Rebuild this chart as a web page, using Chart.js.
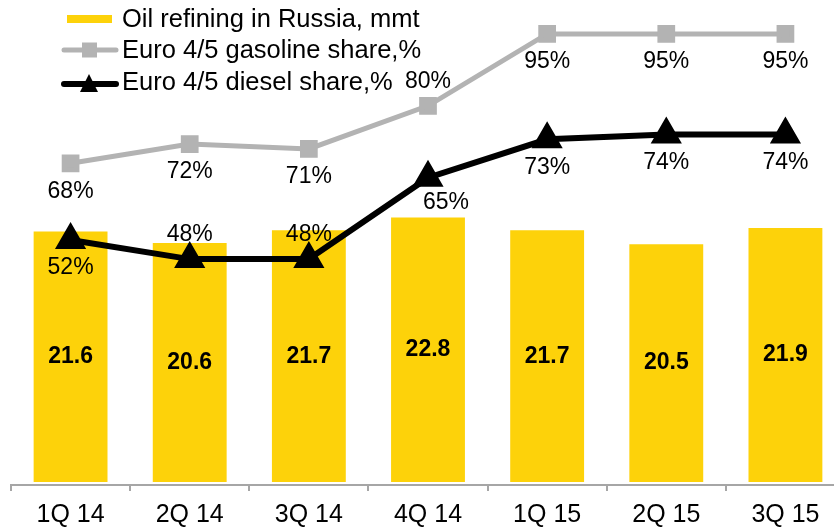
<!DOCTYPE html>
<html>
<head>
<meta charset="utf-8">
<script src="https://cdn.jsdelivr.net/npm/chart.js@4/dist/chart.umd.min.js"></script>
<style>
  html, body { margin: 0; padding: 0; background: #fff; overflow: hidden; }
  #wrap { width: 834px; height: 527px; overflow: hidden; position: relative; }
  #c { position: absolute; left: 0; top: 0; width: 850px; height: 527px; }
</style>
</head>
<body>
<div id="wrap"><canvas id="c" width="850" height="527"></canvas></div>
<script>
const categories = ['1Q 14', '2Q 14', '3Q 14', '4Q 14', '1Q 15', '2Q 15', '3Q 15'];
const refining = [21.6, 20.6, 21.7, 22.8, 21.7, 20.5, 21.9];
const gasolineShare = [68, 72, 71, 80, 95, 95, 95];
const dieselShare = [52, 48, 48, 65, 73, 74, 74];
const gasolineLabelSide = ['below', 'below', 'below', 'above', 'below', 'below', 'below'];
const dieselLabelSide = ['below', 'above', 'above', 'belowRight', 'below', 'below', 'below'];

const FONT = '"Liberation Sans", Arial, sans-serif';
const YELLOW = '#FDD20A';
const GRAY = '#B3B3B3';

const labelPlugin = {
  id: 'labels',
  afterDatasetsDraw(chart) {
    const ctx = chart.ctx;
    ctx.save();
    ctx.textAlign = 'center';
    ctx.textBaseline = 'middle';
    const barMeta = chart.getDatasetMeta(0);
    ctx.font = 'bold 23px ' + FONT;
    ctx.fillStyle = '#000';
    barMeta.data.forEach((el, i) => {
      const y = (el.y + el.base) / 2;
      ctx.fillText(refining[i].toFixed(1), el.x, y);
    });
    ctx.font = '23px ' + FONT;
    const lines = [[1, gasolineShare, gasolineLabelSide], [2, dieselShare, dieselLabelSide]];
    lines.forEach(([idx, vals, sides]) => {
      const meta = chart.getDatasetMeta(idx);
      meta.data.forEach((el, i) => {
        let dx = 0, dy = 28;
        if (sides[i] === 'above') dy = -24;
        if (sides[i] === 'belowRight') { dx = 18; dy = 25; }
        ctx.fillText(vals[i] + '%', el.x + dx, el.y + dy);
      });
    });
    ctx.restore();
  },
  afterDraw(chart) {
    const ctx = chart.ctx;
    ctx.save();
    ctx.font = '25.5px ' + FONT;
    ctx.textBaseline = 'middle';
    ctx.textAlign = 'left';
    const tx = 122;
    let y = 19;
    ctx.fillStyle = YELLOW;
    ctx.fillRect(67, y - 4, 45, 8);
    ctx.fillStyle = '#000';
    ctx.fillText(chart.data.datasets[0].label, tx, y + 1);
    y = 50;
    ctx.strokeStyle = GRAY;
    ctx.lineWidth = 5;
    ctx.lineCap = 'round';
    ctx.beginPath(); ctx.moveTo(64, y); ctx.lineTo(116, y); ctx.stroke();
    ctx.fillStyle = GRAY;
    ctx.fillRect(82, y - 7.5, 15, 15);
    ctx.fillStyle = '#000';
    ctx.fillText(chart.data.datasets[1].label, tx, y + 1);
    y = 82;
    ctx.strokeStyle = '#000';
    ctx.lineWidth = 6;
    ctx.beginPath(); ctx.moveTo(64, y + 2); ctx.lineTo(116, y + 2); ctx.stroke();
    ctx.beginPath();
    ctx.moveTo(89, y - 8); ctx.lineTo(98, y + 10); ctx.lineTo(80, y + 10); ctx.closePath();
    ctx.fill();
    ctx.fillText(chart.data.datasets[2].label, tx, y + 1);
    ctx.restore();
  }
};

new Chart(document.getElementById('c'), {
  type: 'bar',
  data: {
    labels: categories,
    datasets: [
      {
        type: 'bar',
        label: 'Oil refining in Russia, mmt',
        data: refining,
        backgroundColor: YELLOW,
        yAxisID: 'y',
        barPercentage: 0.62,
        categoryPercentage: 1.0,
        order: 3
      },
      {
        type: 'line',
        label: 'Euro 4/5 gasoline share,%',
        data: gasolineShare,
        borderColor: GRAY,
        backgroundColor: GRAY,
        borderWidth: 5,
        pointStyle: 'rect',
        pointRadius: 9,
        pointHoverRadius: 9,
        yAxisID: 'y2',
        tension: 0,
        order: 2
      },
      {
        type: 'line',
        label: 'Euro 4/5 diesel share,%',
        data: dieselShare,
        borderColor: '#000',
        backgroundColor: '#000',
        borderWidth: 6,
        pointStyle: 'triangle',
        pointRadius: 12,
        pointHoverRadius: 12,
        yAxisID: 'y2',
        tension: 0,
        order: 1
      }
    ]
  },
  options: {
    responsive: false,
    animation: false,
    devicePixelRatio: 1,
    layout: { autoPadding: false, padding: { left: 11, right: 5, top: 10, bottom: -12 } },
    plugins: { legend: { display: false }, tooltip: { enabled: false } },
    scales: {
      x: {
        offset: true,
        grid: { display: true, drawOnChartArea: false, offset: true, color: '#A6A6A6', lineWidth: 2, tickLength: 6 },
        border: { display: true, color: '#A6A6A6', width: 2 },
        ticks: { color: '#000', font: { family: FONT, size: 25, lineHeight: 0.88 }, padding: 13, maxRotation: 0, autoSkip: false }
      },
      y: { display: false, min: -0.26, max: 40.7 },
      y2: { display: false, min: 0.84, max: 100 }
    }
  },
  plugins: [labelPlugin]
});
</script>
</body>
</html>
